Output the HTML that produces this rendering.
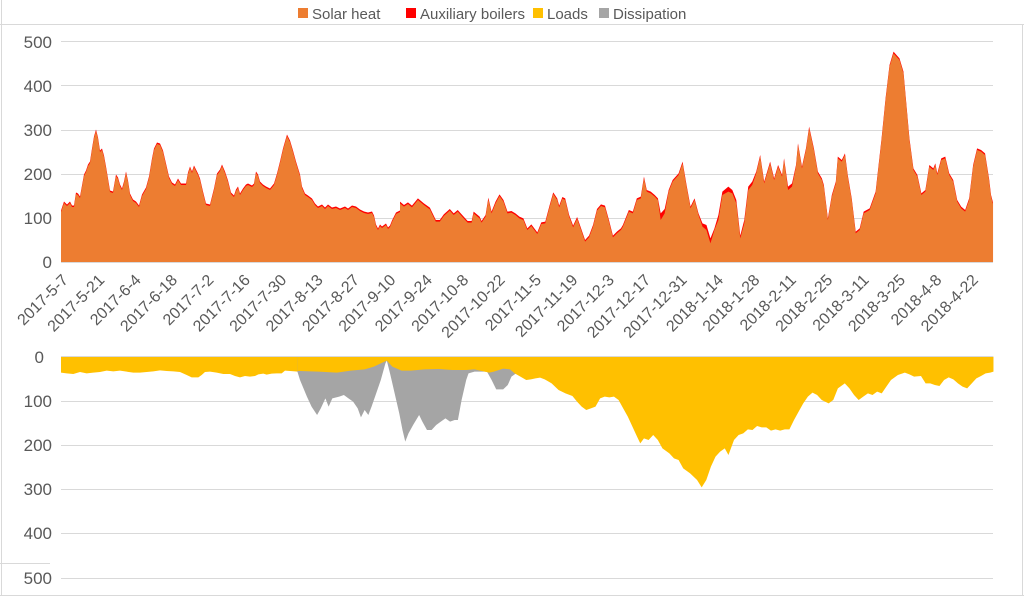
<!DOCTYPE html>
<html><head><meta charset="utf-8"><style>
html,body{margin:0;padding:0;background:#fff;}
svg{display:block;font-family:"Liberation Sans",sans-serif;}
</style></head><body>
<svg width="1024" height="596" viewBox="0 0 1024 596">
<rect x="0" y="0" width="1024" height="596" fill="#fff"/>
<line x1="0" y1="24.5" x2="1024" y2="24.5" stroke="#d9d9d9"/>
<line x1="1.5" y1="0" x2="1.5" y2="596" stroke="#d9d9d9"/>
<line x1="1022.5" y1="24" x2="1022.5" y2="596" stroke="#d9d9d9"/>
<line x1="0" y1="563.5" x2="50" y2="563.5" stroke="#d9d9d9"/>
<line x1="0" y1="595.5" x2="1024" y2="595.5" stroke="#d9d9d9"/>
<!-- legend -->
<g font-size="15" fill="#595959">
<rect x="298" y="8" width="10" height="10" fill="#ed7d31"/><text x="312" y="19">Solar heat</text>
<rect x="406" y="8" width="10" height="10" fill="#ff0000"/><text x="420" y="19">Auxiliary boilers</text>
<rect x="533" y="8" width="10" height="10" fill="#ffc000"/><text x="547" y="19">Loads</text>
<rect x="599" y="8" width="10" height="10" fill="#a5a5a5"/><text x="613" y="19">Dissipation</text>
</g>
<!-- top grid -->
<g stroke="#d9d9d9" stroke-width="1">
<line x1="61" y1="41.5" x2="993" y2="41.5"/><line x1="61" y1="85.5" x2="993" y2="85.5"/>
<line x1="61" y1="130.5" x2="993" y2="130.5"/><line x1="61" y1="174.5" x2="993" y2="174.5"/>
<line x1="61" y1="218.5" x2="993" y2="218.5"/>
</g>
<g font-size="17" fill="#595959" text-anchor="end">
<text x="52" y="48">500</text><text x="52" y="92">400</text><text x="52" y="136">300</text>
<text x="52" y="180">200</text><text x="52" y="224">100</text><text x="52" y="268">0</text>
<text x="44" y="363">0</text><text x="52" y="407">100</text><text x="52" y="451">200</text>
<text x="52" y="495">300</text><text x="52" y="539">400</text><text x="52" y="584">500</text>
</g>
<!-- top left series -->
<g transform="translate(0,-1.5)">
<polygon fill="#ff0000" points="61,264 61,212 64,203 67,206 70,203 72,207 74,207 76,194 78,195 80,198 82,187 84,176 86,172 88,166 90,163 92,150 94,138 96,131 98,139 100,152 102,150 104,157 106,168 108,180 110,192 113,193 116,176 118,179 120,186 122,190 124,183 126,173 128,182 130,195 133,201 136,203 139,207 142,196 146,189 149,178 152,160 154,150 157,144 160,145 163,152 166,165 169,178 172,184 175,186 178,180 181,185 186,185 188,174 190,168 192,173 194,167 198,175 200,180 203,193 206,205 210,206 212,198 214,190 217,175 220,171 222,166 225,173 228,182 231,194 234,197 236,191 238,188 240,195 243,190 246,186 248,185 252,187 254,185 256,173 258,176 260,183 263,186 266,188 270,190 274,185 277,175 280,163 283,150 287,136 290,142 293,152 296,163 300,176 302,188 305,195 308,197 312,200 315,205 318,208 322,206 325,209 328,206 332,209 336,208 340,210 345,208 348,210 352,207 356,208 360,211 364,213 368,214 372,213 374,217 376,226 378,230 380,226 382,228 386,225 388,229 390,227 392,222 396,214 400,212 401,212 401,264"/>
</g>
<polygon fill="#ed7d31" points="61,262 61,212 64,203 67,206 70,203 72,207 74,207 76,194 78,195 80,198 82,187 84,176 86,172 88,166 90,163 92,150 94,138 96,131 98,139 100,152 102,150 104,157 106,168 108,180 110,192 113,193 116,176 118,179 120,186 122,190 124,183 126,173 128,182 130,195 133,201 136,203 139,207 142,196 146,189 149,178 152,160 154,150 157,144 160,145 163,152 166,165 169,178 172,184 175,186 178,180 181,185 186,185 188,174 190,168 192,173 194,167 198,175 200,180 203,193 206,205 210,206 212,198 214,190 217,175 220,171 222,166 225,173 228,182 231,194 234,197 236,191 238,188 240,195 243,190 246,186 248,185 252,187 254,185 256,173 258,176 260,183 263,186 266,188 270,190 274,185 277,175 280,163 283,150 287,136 290,142 293,152 296,163 300,176 302,188 305,195 308,197 312,200 315,205 318,208 322,206 325,209 328,206 332,209 336,208 340,210 345,208 348,210 352,207 356,208 360,211 364,213 368,214 372,213 374,217 376,226 378,230 380,226 382,228 386,225 388,229 390,227 392,222 396,214 400,212 401,212 401,262"/>
<!-- top right series (zoom coords) -->
<g transform="translate(400,0) scale(0.398,0.33333)">
<polygon fill="#ff0000" transform="translate(0,-5)" points="0,610 10,620 20,612 30,622 45,600 60,615 75,628 90,665 100,665 110,648 125,632 135,645 145,635 160,655 170,668 180,668 185,640 200,655 205,668 215,650 222,598 230,640 240,610 250,588 260,605 270,640 280,638 290,645 300,655 310,660 320,690 330,678 345,702 355,672 365,670 375,625 385,582 395,600 400,622 408,596 415,600 425,650 435,682 445,656 455,690 465,725 475,712 485,680 495,632 505,618 515,622 525,665 535,712 545,700 555,690 560,680 575,635 585,640 595,600 605,595 613,535 620,575 630,580 640,590 648,600 655,645 665,632 675,575 685,545 700,525 710,490 720,560 730,625 740,600 750,645 760,675 770,680 780,720 790,690 800,650 810,580 825,565 835,575 845,605 855,712 865,665 875,565 885,550 895,520 905,470 915,550 920,530 930,490 940,540 950,500 960,530 965,480 975,565 985,555 995,500 1000,435 1010,505 1020,450 1028,385 1040,450 1050,520 1060,540 1065,560 1075,660 1085,590 1095,550 1100,475 1110,485 1118,465 1125,530 1135,600 1145,700 1155,690 1165,640 1180,630 1195,580 1210,420 1220,300 1230,200 1240,160 1255,180 1265,220 1280,420 1290,510 1300,530 1310,585 1320,575 1330,500 1340,510 1345,495 1350,525 1360,480 1370,475 1380,525 1390,545 1400,605 1410,625 1420,635 1430,600 1440,500 1450,450 1460,455 1470,465 1480,540 1485,590 1490,612 1490,791 0,791"/>
<polygon fill="#ed7d31" points="0,610 10,620 20,612 30,622 45,600 60,615 75,628 90,665 100,665 110,648 125,632 135,645 145,635 160,655 170,668 180,668 185,640 200,655 205,668 215,650 222,598 230,640 240,610 250,588 260,605 270,640 280,638 290,645 300,655 310,660 320,690 330,678 345,702 355,672 365,670 375,625 385,582 395,600 400,622 408,596 415,600 425,650 435,682 445,656 455,690 465,725 475,712 485,680 495,632 505,618 515,622 525,665 535,712 545,700 555,690 560,680 575,635 585,640 595,600 605,595 613,535 620,575 630,580 640,590 648,600 655,660 665,640 675,575 685,545 700,525 710,490 720,560 730,625 740,600 750,645 760,680 770,690 780,730 790,690 800,660 810,585 825,575 835,580 845,610 855,715 865,670 875,570 885,555 895,520 905,470 915,550 920,530 930,490 940,540 950,500 960,530 965,480 975,570 985,560 995,500 1000,435 1010,505 1020,450 1028,385 1040,450 1050,520 1060,540 1065,560 1075,660 1085,590 1095,550 1100,475 1110,485 1118,465 1125,530 1135,600 1145,700 1155,690 1165,640 1180,630 1195,580 1210,420 1220,300 1230,200 1240,160 1255,180 1265,220 1280,420 1290,510 1300,530 1310,585 1320,575 1330,500 1340,510 1345,495 1350,525 1360,480 1370,475 1380,525 1390,545 1400,605 1410,625 1420,635 1430,600 1440,500 1450,450 1460,455 1470,465 1480,540 1485,590 1490,612 1490,786 0,786"/>
</g>
<line x1="61" y1="262.5" x2="993" y2="262.5" stroke="#d9d9d9"/>
<!-- x labels -->
<g font-size="16" fill="#595959" text-anchor="end">
<text transform="translate(69,281) rotate(-45)">2017-5-7</text>
<text transform="translate(105.4,281) rotate(-45)">2017-5-21</text>
<text transform="translate(141.8,281) rotate(-45)">2017-6-4</text>
<text transform="translate(178.2,281) rotate(-45)">2017-6-18</text>
<text transform="translate(214.6,281) rotate(-45)">2017-7-2</text>
<text transform="translate(251,281) rotate(-45)">2017-7-16</text>
<text transform="translate(287.4,281) rotate(-45)">2017-7-30</text>
<text transform="translate(323.8,281) rotate(-45)">2017-8-13</text>
<text transform="translate(360.2,281) rotate(-45)">2017-8-27</text>
<text transform="translate(396.6,281) rotate(-45)">2017-9-10</text>
<text transform="translate(433,281) rotate(-45)">2017-9-24</text>
<text transform="translate(469.4,281) rotate(-45)">2017-10-8</text>
<text transform="translate(505.8,281) rotate(-45)">2017-10-22</text>
<text transform="translate(542.2,281) rotate(-45)">2017-11-5</text>
<text transform="translate(578.6,281) rotate(-45)">2017-11-19</text>
<text transform="translate(615,281) rotate(-45)">2017-12-3</text>
<text transform="translate(651.4,281) rotate(-45)">2017-12-17</text>
<text transform="translate(687.8,281) rotate(-45)">2017-12-31</text>
<text transform="translate(724.2,281) rotate(-45)">2018-1-14</text>
<text transform="translate(760.6,281) rotate(-45)">2018-1-28</text>
<text transform="translate(797,281) rotate(-45)">2018-2-11</text>
<text transform="translate(833.4,281) rotate(-45)">2018-2-25</text>
<text transform="translate(869.8,281) rotate(-45)">2018-3-11</text>
<text transform="translate(906.2,281) rotate(-45)">2018-3-25</text>
<text transform="translate(942.6,281) rotate(-45)">2018-4-8</text>
<text transform="translate(979,281) rotate(-45)">2018-4-22</text>
</g>
<!-- bottom grid -->
<g stroke="#d9d9d9">
<line x1="61" y1="401.5" x2="993" y2="401.5"/><line x1="61" y1="445.5" x2="993" y2="445.5"/>
<line x1="61" y1="489.5" x2="993" y2="489.5"/><line x1="61" y1="533.5" x2="993" y2="533.5"/>
<line x1="61" y1="578.5" x2="993" y2="578.5"/>
</g>
<!-- bottom left yellow -->
<g transform="translate(0,330) scale(0.33333)">
<polygon fill="#ffc000" points="183,81 183,128 200,130 220,132 240,126 260,130 280,128 300,126 320,122 340,124 360,122 380,125 400,128 420,128 440,126 460,124 480,121 500,123 520,124 540,126 560,135 575,142 595,142 605,135 615,126 630,125 650,128 670,132 690,132 705,138 720,142 735,138 750,140 765,138 775,133 790,131 800,134 815,131 830,130 845,130 855,122 870,123 885,124 903,126 903,81"/>
</g>
<!-- bottom right -->
<g transform="translate(300,340) scale(0.4617,0.33333)">
<polygon fill="#a5a5a5" points="-6,50 -6,93 0,120 15,170 25,200 37,225 45,205 55,175 62,200 70,175 85,170 95,165 105,175 115,185 125,205 132,232 140,210 148,225 155,200 165,160 175,120 185,70 188,62 195,100 205,160 215,220 222,270 228,305 235,280 245,255 258,225 265,245 275,270 285,270 295,255 305,245 315,235 325,245 335,240 342,240 350,180 360,120 365,100 378,95 395,95 405,95 415,120 425,148 440,148 450,135 458,110 468,100 468,50"/>
<polygon fill="#ffc000" points="-6,50 -6,93 0,93 40,95 80,98 110,92 140,88 160,80 175,70 188,62 200,80 220,92 240,92 270,88 300,87 330,90 360,90 378,88 390,92 410,98 420,95 440,86 455,88 465,100 475,108 490,120 500,118 510,115 520,113 530,118 545,130 560,150 575,160 590,168 600,185 610,200 620,210 630,205 640,200 650,175 660,170 670,172 680,170 690,180 700,205 710,230 720,260 730,290 737,310 745,295 755,300 765,285 775,300 785,325 800,340 810,355 820,360 830,385 845,400 860,420 870,442 880,420 890,380 900,350 910,335 920,325 928,345 940,300 950,285 960,280 970,268 980,270 990,258 1000,262 1010,262 1020,272 1030,268 1040,272 1050,268 1060,268 1070,240 1080,215 1090,190 1100,170 1110,158 1120,165 1130,180 1145,190 1155,180 1165,145 1180,130 1190,145 1200,165 1210,180 1220,170 1230,160 1240,165 1250,155 1260,160 1270,140 1280,120 1295,105 1310,98 1320,103 1330,110 1345,108 1355,130 1365,130 1375,135 1385,138 1395,120 1405,112 1415,118 1425,130 1435,140 1445,145 1455,130 1465,115 1475,108 1485,100 1495,98 1502,95 1502,50"/>
</g>
<line x1="61" y1="356.5" x2="993" y2="356.5" stroke="#d9d9d9"/>
</svg>
</body></html>
